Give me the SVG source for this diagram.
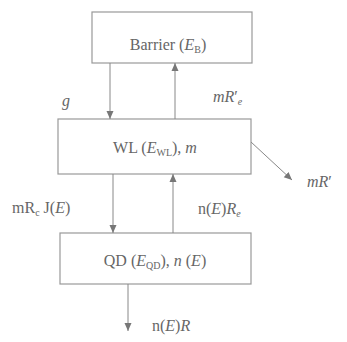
<svg xmlns="http://www.w3.org/2000/svg" width="347" height="342" viewBox="0 0 347 342" font-family="'Liberation Serif', 'DejaVu Serif', serif">
<defs>
<marker id="ah" markerWidth="9" markerHeight="9" refX="8" refY="4" orient="auto" markerUnits="userSpaceOnUse">
<path d="M0,0.5 L8,4 L0,7.5 Z" fill="#777"/>
</marker>
<style>
.box{fill:#fff;stroke:#999;stroke-width:1.2}
.ln{stroke:#888;stroke-width:1;fill:none;marker-end:url(#ah)}
.t{font-family:'Liberation Serif','DejaVu Serif',serif;font-size:16px;fill:#666}
.i{font-style:italic}
.s{font-size:10px}
</style>
</defs>
<rect width="347" height="342" fill="#fff"/>
<g id="barrier">
<rect class="box" x="92" y="12" width="160" height="51"/>
<text class="t" x="168" y="50" text-anchor="middle">Barrier (<tspan class="i">E</tspan><tspan class="s" dy="3">B</tspan><tspan dy="-3">)</tspan></text>
</g>
<g id="wl">
<rect class="box" x="58" y="119" width="193" height="55"/>
<text class="t" x="155" y="153" text-anchor="middle">WL (<tspan class="i">E</tspan><tspan class="s" dy="3">WL</tspan><tspan dy="-3">), </tspan><tspan class="i">m</tspan></text>
</g>
<g id="qd">
<rect class="box" x="60" y="233" width="191" height="51"/>
<text class="t" x="155" y="266" text-anchor="middle">QD (<tspan class="i">E</tspan><tspan class="s" dy="3">QD</tspan><tspan dy="-3">), </tspan><tspan class="i">n</tspan> (<tspan class="i">E</tspan>)</text>
</g>
<g id="connectors">
<line class="ln" x1="110" y1="63" x2="110" y2="119"/>
<line class="ln" x1="175" y1="119" x2="175" y2="63"/>
<line class="ln" x1="113" y1="174" x2="113" y2="233"/>
<line class="ln" x1="173" y1="233" x2="173" y2="174"/>
<line class="ln" x1="251" y1="142" x2="292" y2="180"/>
<line class="ln" x1="128" y1="284" x2="128" y2="331"/>
</g>
<g id="labels">
<text class="t i" x="62" y="106">g</text>
<text class="t" x="213" y="102"><tspan class="i">mR</tspan>′<tspan class="s i" dy="3">e</tspan></text>
<text class="t" x="307" y="187"><tspan class="i">mR</tspan>′</text>
<text class="t" x="12" y="213">mR<tspan class="s" dy="3">c</tspan><tspan dy="-3"> J(</tspan><tspan class="i">E</tspan>)</text>
<text class="t" x="198" y="214">n(<tspan class="i">E</tspan>)<tspan class="i">R</tspan><tspan class="s i" dy="3">e</tspan></text>
<text class="t" x="152" y="331">n(<tspan class="i">E</tspan>)<tspan class="i">R</tspan></text>
</g>
</svg>
